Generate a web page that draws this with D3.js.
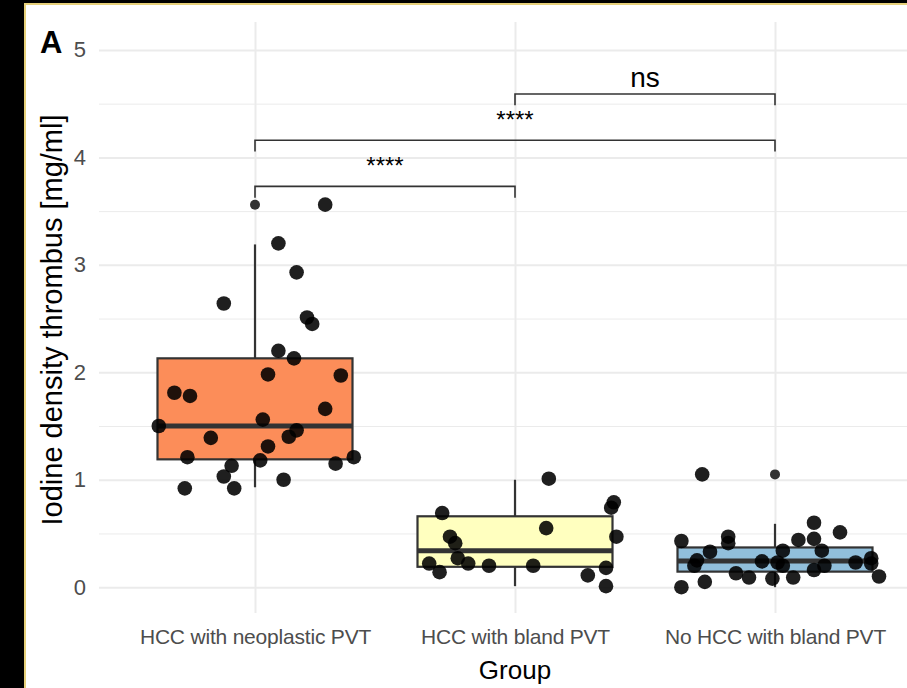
<!DOCTYPE html>
<html>
<head>
<meta charset="utf-8">
<script src="https://cdn.jsdelivr.net/npm/d3@7"></script>
<style>
  body { margin: 0; background: #000; }
  svg { display: block; font-family: "Liberation Sans", Arial, sans-serif; }
</style>
</head>
<body>
<script>
const groups = ["HCC with neoplastic PVT", "HCC with bland PVT", "No HCC with bland PVT"];
const fills = ["#FC8D59", "#FFFFBF", "#91BFDB"];

// boxplot stats
const q1 = [1.19, 0.19, 0.145];
const medians = [1.50, 0.34, 0.245];
const q3 = [2.13, 0.66, 0.37];
const whiskerLow = [0.93, 0.01, 0.0];
const whiskerHigh = [3.19, 1.0, 0.59];
const outliers = [[3.56], [], [1.05]];

// jittered observations: value and horizontal jitter (in category steps)
const values1 = [3.56, 3.20, 2.93, 2.64, 2.51, 2.45, 2.20, 2.13, 1.98, 1.97, 1.81, 1.78, 1.66, 1.56,
                 1.50, 1.46, 1.40, 1.39, 1.31, 1.21, 1.18, 1.21, 1.15, 1.13, 1.03, 0.92, 0.92, 1.00];
const jitter1 = [0.27, 0.09, 0.16, -0.12, 0.20, 0.22, 0.09, 0.15, 0.05, 0.33, -0.31, -0.25, 0.27, 0.03,
                 -0.37, 0.16, 0.13, -0.17, 0.05, -0.26, 0.02, 0.38, 0.31, -0.09, -0.12, -0.08, -0.27, 0.11];
const values2 = [1.01, 0.69, 0.79, 0.74, 0.55, 0.47, 0.47, 0.41, 0.27, 0.22, 0.22, 0.20, 0.14, 0.20,
                 0.11, 0.18, 0.01];
const jitter2 = [0.13, -0.28, 0.38, 0.37, 0.12, 0.39, -0.25, -0.23, -0.22, -0.33, -0.18, -0.10, -0.29, 0.07,
                 0.28, 0.35, 0.35];
const values3 = [1.05, 0.43, 0.47, 0.41, 0.33, 0.25, 0.20, 0.60, 0.51, 0.44, 0.45, 0.34, 0.34, 0.24,
                 0.23, 0.20, 0.23, 0.27, 0.22, 0.20, 0.16, 0.13, 0.09, 0.08, 0.09, 0.10, 0.05, 0.0];
const jitter3 = [-0.28, -0.36, -0.18, -0.18, -0.25, -0.30, -0.31, 0.15, 0.25, 0.09, 0.15, 0.18, 0.03, -0.05,
                 0.01, 0.03, 0.31, 0.37, 0.37, 0.19, 0.15, -0.15, -0.10, -0.01, 0.07, 0.40, -0.27, -0.36];

// significance brackets
const compFrom = [0, 0, 1];
const compTo = [1, 2, 2];
const compY = [3.73, 4.16, 4.59];
const compLabel = ["****", "****", "ns"];

const yTicks = [0, 1, 2, 3, 4, 5];
const yMinor = [0.5, 1.5, 2.5, 3.5, 4.5];

const width = 907, height = 688;
const pLeft = 99, pRight = 931, pTop = 22, pBottom = 613;

const svg = d3.select("body").append("svg")
    .attr("width", width).attr("height", height);

// page frame
svg.append("rect").attr("width", width).attr("height", height).attr("fill", "#000");
svg.append("rect").attr("x", 24).attr("y", 3).attr("width", width).attr("height", height)
    .attr("fill", "#e6d07a");
svg.append("rect").attr("x", 26).attr("y", 5).attr("width", width).attr("height", height)
    .attr("fill", "#fff");

const x = d3.scalePoint().domain(groups).range([pLeft, pRight]).padding(0.6);
const step = x.step();
const y = d3.scaleLinear().domain([-0.24, 5.26]).range([pBottom, pTop]);

// grid
svg.append("g").attr("transform", "translate(" + pLeft + ",0)")
    .call(d3.axisLeft(y).tickValues(yMinor).tickSize(-(pRight - pLeft)).tickFormat(""))
    .call(g => g.select(".domain").remove())
    .call(g => g.selectAll("line").attr("stroke", "#ebebeb").attr("stroke-width", 1));
svg.append("g").attr("transform", "translate(" + pLeft + ",0)")
    .call(d3.axisLeft(y).tickValues(yTicks).tickSize(-(pRight - pLeft)).tickFormat(""))
    .call(g => g.select(".domain").remove())
    .call(g => g.selectAll("line").attr("stroke", "#ebebeb").attr("stroke-width", 2));
svg.append("g").attr("transform", "translate(0," + pBottom + ")")
    .call(d3.axisBottom(x).tickSize(-(pBottom - pTop)).tickFormat(""))
    .call(g => g.select(".domain").remove())
    .call(g => g.selectAll("line").attr("stroke", "#ebebeb").attr("stroke-width", 2));

// axis labels
svg.append("g").attr("transform", "translate(" + pLeft + ",0)")
    .call(d3.axisLeft(y).tickValues(yTicks).tickFormat(d3.format("d")).tickSize(0).tickPadding(13))
    .call(g => g.select(".domain").remove())
    .call(g => g.selectAll("text").attr("fill", "#4d4d4d").style("font-size", "22px")
        .attr("font-family", "Liberation Sans, Arial, sans-serif"));
svg.append("g").attr("transform", "translate(0," + pBottom + ")")
    .call(d3.axisBottom(x).tickSize(0).tickPadding(16))
    .call(g => g.select(".domain").remove())
    .call(g => g.selectAll("text").attr("fill", "#4d4d4d").style("font-size", "21px")
        .style("letter-spacing", "-0.2px")
        .attr("font-family", "Liberation Sans, Arial, sans-serif"));

// boxplots
const boxes = svg.append("g").selectAll("g").data(groups).enter().append("g");
const bw = step * 0.75;
boxes.append("line")
    .attr("x1", d => x(d)).attr("x2", d => x(d))
    .attr("y1", (d, i) => y(whiskerHigh[i])).attr("y2", (d, i) => y(q3[i]))
    .attr("stroke", "#333").attr("stroke-width", 2.2);
boxes.append("line")
    .attr("x1", d => x(d)).attr("x2", d => x(d))
    .attr("y1", (d, i) => y(whiskerLow[i])).attr("y2", (d, i) => y(q1[i]))
    .attr("stroke", "#333").attr("stroke-width", 2.2);
boxes.append("rect")
    .attr("x", d => x(d) - bw / 2).attr("width", bw)
    .attr("y", (d, i) => y(q3[i])).attr("height", (d, i) => y(q1[i]) - y(q3[i]))
    .attr("fill", (d, i) => fills[i]).attr("stroke", "#333").attr("stroke-width", 2.2);
boxes.append("line")
    .attr("x1", d => x(d) - bw / 2).attr("x2", d => x(d) + bw / 2)
    .attr("y1", (d, i) => y(medians[i])).attr("y2", (d, i) => y(medians[i]))
    .attr("stroke", "#333").attr("stroke-width", 5);
boxes.selectAll("circle").data((d, i) => outliers[i].map(v => [d, v])).enter().append("circle")
    .attr("cx", d => x(d[0])).attr("cy", d => y(d[1])).attr("r", 5)
    .attr("fill", "#333");

// jittered points
const pts = [];
[values1, values2, values3].forEach((vals, gi) => {
    const jit = [jitter1, jitter2, jitter3][gi];
    vals.forEach((v, k) => pts.push({ g: groups[gi], v: v, j: jit[k] }));
});
svg.append("g").selectAll("circle").data(pts).enter().append("circle")
    .attr("cx", d => x(d.g) + d.j * step)
    .attr("cy", d => y(d.v))
    .attr("r", 7.3)
    .attr("fill", "#000").attr("fill-opacity", 0.88);

// significance brackets
const tick = 0.105;
const br = svg.append("g").selectAll("g").data(compY).enter().append("g");
br.append("path")
    .attr("d", (d, i) => {
        const x1 = x(groups[compFrom[i]]), x2 = x(groups[compTo[i]]);
        return "M" + x1 + "," + y(d - tick) + "V" + y(d) + "H" + x2 + "V" + y(d - tick);
    })
    .attr("fill", "none").attr("stroke", "#333").attr("stroke-width", 1.6);
br.append("text")
    .attr("x", (d, i) => (x(groups[compFrom[i]]) + x(groups[compTo[i]])) / 2)
    .attr("y", (d, i) => compLabel[i] === "ns" ? y(d) - 7 : y(d) - 12)
    .attr("text-anchor", "middle")
    .style("font-size", (d, i) => compLabel[i] === "ns" ? "28px" : "24px")
    .attr("fill", "#000")
    .text((d, i) => compLabel[i]);

// titles
svg.append("text").attr("x", x(groups[1])).attr("y", 679)
    .attr("text-anchor", "middle").style("font-size", "26px").attr("fill", "#000")
    .text("Group");
svg.append("text").attr("transform", "translate(62,320) rotate(-90)")
    .attr("text-anchor", "middle").style("font-size", "29px").attr("fill", "#000")
    .text("Iodine density thrombus [mg/ml]");
svg.append("text").attr("x", 40).attr("y", 53)
    .style("font-size", "31px").style("font-weight", "bold").attr("fill", "#000")
    .text("A");
</script>
</body>
</html>
